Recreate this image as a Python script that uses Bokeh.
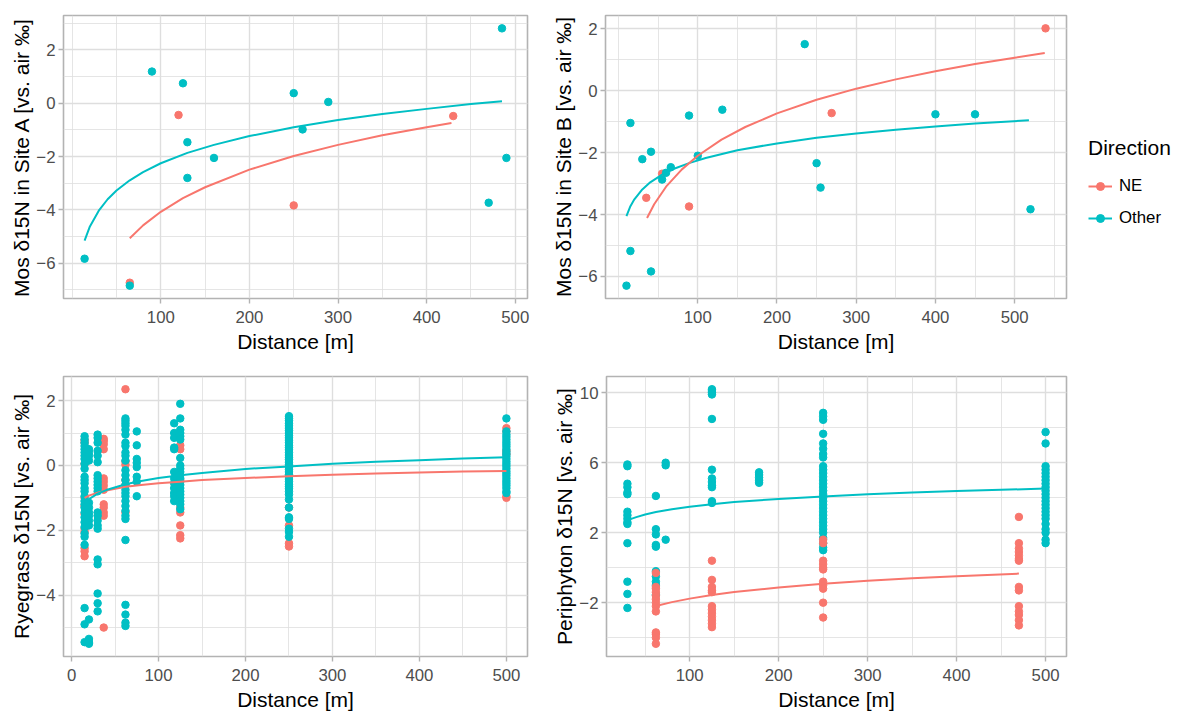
from bokeh.plotting import figure
from bokeh.layouts import row, column
from bokeh.models import Range1d, FixedTicker, Legend, LegendItem, Spacer
from bokeh.embed import file_html
from bokeh.resources import INLINE

NE_COLOR = "#F8766D"
OTHER_COLOR = "#00BFC4"
FONT = "Liberation Sans"

# ---------------- data ----------------
directions = ["NE", "Other"]
x_title = "Distance [m]"

# Panel A: Mos, Site A
a_ne_x = [65, 120, 250, 430]
a_ne_y = [-6.73, -0.44, -3.83, -0.48]
a_other_x = [14, 65, 90, 125, 130, 130, 160, 250, 260, 289, 470, 485, 490]
a_other_y = [-5.83, -6.84, 1.19, 0.75, -1.46, -2.80, -2.05, 0.38, -0.98, 0.05, -3.73, 2.81, -2.05]
a_ne_fit_x = [65, 80, 100, 125, 150, 200, 250, 300, 350, 400, 428]
a_ne_fit_y = [-5.06, -4.58, -4.07, -3.56, -3.15, -2.49, -1.98, -1.56, -1.20, -0.90, -0.74]
a_other_fit_x = [14, 20, 30, 40, 50, 65, 80, 100, 130, 160, 200, 250, 300, 350, 400, 450, 485]
a_other_fit_y = [-5.15, -4.62, -4.03, -3.60, -3.27, -2.89, -2.58, -2.25, -1.86, -1.56, -1.23,
                 -0.90, -0.63, -0.40, -0.21, -0.03, 0.08]

# Panel B: Mos, Site B
b_ne_x = [35, 55, 89, 269, 539]
b_ne_y = [-3.46, -2.68, -3.74, -0.72, 2.02]
b_other_x = [10, 15, 15, 30, 41, 41, 55, 60, 66, 89, 100, 131, 235, 250, 255, 400, 450, 520]
b_other_y = [-6.30, -1.04, -5.18, -2.21, -1.97, -5.84, -2.87, -2.65, -2.47, -0.80, -2.10, -0.61,
             1.51, -2.34, -3.13, -0.76, -0.76, -3.83]
b_ne_fit_x = [36, 45, 60, 80, 100, 130, 160, 200, 250, 300, 350, 400, 450, 500, 538]
b_ne_fit_y = [-4.11, -3.67, -3.10, -2.54, -2.10, -1.58, -1.17, -0.73, -0.29, 0.07, 0.37, 0.63,
              0.87, 1.07, 1.22]
b_other_fit_x = [10, 15, 20, 30, 40, 55, 70, 90, 110, 150, 200, 250, 300, 350, 400, 450, 518]
b_other_fit_y = [-4.05, -3.73, -3.51, -3.19, -2.96, -2.71, -2.52, -2.33, -2.17, -1.92, -1.70,
                 -1.52, -1.38, -1.26, -1.15, -1.06, -0.95]

# Panel C: Ryegrass (values grouped by sampling distance)
c_ne_dist = [15, 37, 62, 125, 250, 500]
c_ne_vals = [
    [0.78, 0.7, 0.05, -1.0, -1.25, -1.5, -1.95, -2.05, -2.55, -2.65, -2.8],
    [0.82, 0.75, 0.65, 0.5, -0.4, -0.5, -0.62, -0.75, -1.2, -1.3, -1.45, -1.55, -5.0],
    [2.35, 0.12, 0.02, -0.45, -0.6, -1.45],
    [0.62, 0.5, -0.45, -1.3, -1.45, -1.85, -2.15, -2.25],
    [-0.3, -1.3, -1.85, -2.4, -2.5],
    [1.15, 1.05, 0.45, 0.35, -0.95, -1.0],
]
c_other_dist = [15, 20, 30, 62, 75, 118, 125, 250, 500]
c_other_vals = [
    [0.9, 0.8, 0.7, 0.6, 0.5, 0.4, 0.3, 0.2, 0.05, -0.1, -0.35, -0.45, -0.55, -0.7, -0.8, -0.95,
     -1.1, -1.2, -1.3, -1.45, -1.6, -1.75, -1.9, -2.1, -2.2, -2.45, -4.4, -4.9, -5.45],
    [0.5, 0.4, 0.3, 0.15, -1.15, -1.3, -1.45, -1.55, -1.7, -1.85, -4.75, -5.35, -5.45, -5.5],
    [0.95, 0.85, 0.7, 0.45, 0.3, 0.1, -0.3, -0.4, -0.5, -0.6, -0.7, -0.8, -1.45, -1.55, -1.7,
     -1.85, -1.95, -2.9, -3.05, -3.95, -4.25, -4.5],
    [1.45, 1.38, 1.3, 1.22, 1.1, 0.95, 0.7, 0.6, 0.4, 0.3, 0.15, -0.15, -0.3, -0.45, -0.6, -0.75,
     -0.85, -0.95, -1.1, -1.25, -1.4, -1.55, -1.65, -2.3, -4.3, -4.6, -4.85, -4.95],
    [1.05, 0.62, 0.2, 0.08, -0.05, -0.35, -0.5, -0.95],
    [1.3, 1.0, 0.85, 0.55, 0.5, -0.2, -0.4, -0.55, -0.7, -0.85, -0.95, -1.1],
    [1.9, 1.45, 1.1, 1.0, 0.9, 0.8, 0.23, 0.0, -0.1, -0.2, -0.3, -0.4, -0.5, -0.6, -0.7, -0.8,
     -0.9, -1.0, -1.1, -1.2, -1.35],
    [1.52, 1.45, 1.38, 1.3, 1.22, 1.15, 1.08, 1.0, 0.92, 0.85, 0.78, 0.7, 0.62, 0.55, 0.48, 0.4,
     0.32, 0.25, 0.18, 0.1, 0.02, -0.05, -0.12, -0.2, -0.28, -0.35, -0.42, -0.5, -0.58, -0.65,
     -0.72, -0.8, -0.9, -1.05, -1.3, -1.6, -1.65, -1.95, -2.05, -2.2],
    [1.45, 1.05, 0.95, 0.88, 0.8, 0.72, 0.65, 0.58, 0.5, 0.42, 0.35, 0.28, 0.2, 0.12, 0.05,
     -0.02, -0.1, -0.18, -0.25, -0.32, -0.4, -0.48, -0.55, -0.62, -0.7, -0.8, -0.85],
]
c_ne_fit_x = [15, 20, 30, 40, 62, 80, 100, 125, 150, 200, 250, 300, 350, 400, 450, 500]
c_ne_fit_y = [-1.0, -0.93, -0.84, -0.77, -0.66, -0.60, -0.55, -0.50, -0.45, -0.39, -0.33, -0.29,
              -0.25, -0.22, -0.19, -0.17]
c_other_fit_x = [15, 20, 30, 40, 62, 80, 100, 125, 150, 200, 250, 300, 350, 400, 450, 500]
c_other_fit_y = [-1.15, -1.04, -0.87, -0.76, -0.58, -0.48, -0.39, -0.30, -0.23, -0.11, -0.03,
                 0.05, 0.11, 0.16, 0.21, 0.25]

# Panel D: Periphyton
d_ne_dist = [62, 125, 250, 470]
d_ne_vals = [
    [-0.3, -1.1, -1.2, -1.4, -1.6, -1.8, -2.0, -2.2, -2.5, -3.7, -3.8, -4.0, -4.35],
    [0.4, -0.7, -1.1, -1.3, -1.4, -2.2, -2.4, -2.6, -2.8, -3.0, -3.2, -3.4],
    [1.6, 1.4, 0.4, 0.2, 0.0, -0.1, -0.8, -1.0, -1.2, -2.0, -2.85],
    [2.9, 1.4, 1.1, 0.9, 0.7, 0.5, 0.4, -1.1, -1.3, -2.2, -2.5, -2.7, -3.0, -3.3],
]
d_other_dist = [30, 62, 73, 125, 178, 250, 500]
d_other_vals = [
    [5.9, 5.8, 4.8, 4.6, 4.3, 4.2, 3.2, 3.0, 2.8, 2.6, 2.5, 1.4, -0.8, -1.5, -2.3],
    [4.1, 2.2, 1.9, 1.3, 1.2, -0.2, -0.5, -0.8, -1.0, -1.55],
    [6.0, 5.85, 1.6],
    [10.2, 10.1, 10.0, 9.9, 8.5, 5.6, 5.1, 4.9, 4.7, 4.6, 3.8, 3.7],
    [5.45, 5.3, 5.15, 5.0, 4.85],
    [8.85, 8.65, 8.45, 7.65, 7.1, 6.8, 6.5, 6.3, 5.8, 5.6, 5.4, 5.2, 5.0, 4.8, 4.6, 4.4, 4.2,
     4.0, 3.8, 3.6, 3.4, 3.2, 3.0, 2.8, 2.6, 2.4, 2.2, 2.0, 1.7, 1.4, 1.15, 1.0],
    [7.75, 7.1, 5.8, 5.6, 5.4, 5.2, 5.0, 4.8, 4.6, 4.4, 4.2, 4.0, 3.8, 3.6, 3.4, 3.2, 3.0, 2.8,
     2.5, 2.2, 2.0, 1.6, 1.4],
]
d_ne_fit_x = [62, 80, 100, 125, 150, 200, 250, 300, 350, 400, 470]
d_ne_fit_y = [-2.19, -1.97, -1.77, -1.56, -1.39, -1.13, -0.92, -0.75, -0.61, -0.49, -0.34]
d_other_fit_x = [31, 40, 50, 62, 80, 100, 125, 150, 200, 250, 300, 350, 400, 450, 500]
d_other_fit_y = [2.73, 2.89, 3.04, 3.18, 3.34, 3.48, 3.63, 3.75, 3.93, 4.07, 4.19, 4.29, 4.38,
                 4.45, 4.52]

# axis ticks
a_yticks = [-6, -4, -2, 0, 2]
b_yticks = [-6, -4, -2, 0, 2]
c_yticks = [-4, -2, 0, 2]
d_yticks = [-2, 2, 6, 10]
ab_xticks = [100, 200, 300, 400, 500]
c_xticks = [0, 100, 200, 300, 400, 500]
d_xticks = [100, 200, 300, 400, 500]


def flatten(dists, groups):
    xs, ys = [], []
    for d, vals in zip(dists, groups):
        xs += [d] * len(vals)
        ys += list(vals)
    return xs, ys


def expand(*lists):
    vals = [v for l in lists for v in l]
    lo, hi = min(vals), max(vals)
    d = (hi - lo) * 0.05
    return lo - d, hi + d


def minors(ticks):
    step = ticks[1] - ticks[0]
    ext = [ticks[0] - step] + list(ticks) + [ticks[-1] + step]
    return [(ext[i] + ext[i + 1]) / 2 for i in range(len(ext) - 1)] + ext


def panel(width, height, borders, xr, yr, xticks, yticks, ylabel):
    left, right, top, bottom = borders
    p = figure(width=width, height=height, x_range=Range1d(*xr), y_range=Range1d(*yr),
               output_backend="svg", toolbar_location=None,
               min_border_left=left, min_border_right=right,
               min_border_top=top, min_border_bottom=bottom)
    p.outline_line_color = "#B3B3B3"
    p.outline_line_width = 1.6
    p.background_fill_color = "white"
    p.border_fill_color = "white"
    xtk = FixedTicker(ticks=xticks, minor_ticks=minors(xticks))
    ytk = FixedTicker(ticks=yticks, minor_ticks=minors(yticks))
    p.xaxis[0].ticker = xtk
    p.yaxis[0].ticker = ytk
    p.xgrid[0].ticker = xtk
    p.ygrid[0].ticker = ytk
    p.xaxis.axis_label = x_title
    p.yaxis.axis_label = ylabel
    for ax in (p.xaxis[0], p.yaxis[0]):
        ax.axis_line_color = None
        ax.major_tick_line_color = "#B3B3B3"
        ax.major_tick_line_width = 1.4
        ax.major_tick_out = 5
        ax.major_tick_in = 0
        ax.minor_tick_line_color = None
        ax.major_label_text_font = FONT
        ax.major_label_text_font_size = "16.8px"
        ax.major_label_text_color = "#4D4D4D"
        ax.axis_label_text_font = FONT
        ax.axis_label_text_font_size = "21px"
        ax.axis_label_text_font_style = "normal"
        ax.axis_label_text_color = "#000000"
    p.xaxis[0].major_label_standoff = 7
    p.xaxis[0].axis_label_standoff = 4
    p.yaxis[0].major_label_standoff = 3
    p.yaxis[0].axis_label_standoff = 0
    for g in (p.xgrid[0], p.ygrid[0]):
        g.grid_line_color = "#DEDEDE"
        g.grid_line_width = 1.4
        g.minor_grid_line_color = "#DEDEDE"
        g.minor_grid_line_width = 0.8
    return p


PT = 7.5
LW = 2

# Panel A
pA = panel(545, 358, (63, 18, 15, 60), expand(a_ne_x, a_other_x, a_other_fit_x),
           expand(a_ne_y, a_other_y), ab_xticks, a_yticks, "Mos δ15N in Site A [vs. air ‰]")
pA.scatter(a_ne_x, a_ne_y, size=PT, color=NE_COLOR)
pA.scatter(a_other_x, a_other_y, size=PT, color=OTHER_COLOR)
pA.line(a_ne_fit_x, a_ne_fit_y, line_width=LW, color=NE_COLOR)
pA.line(a_other_fit_x, a_other_fit_y, line_width=LW, color=OTHER_COLOR)

# Panel B
pB = panel(535, 358, (60, 14, 15, 60), expand(b_ne_x, b_other_x),
           expand(b_ne_y, b_other_y), ab_xticks, b_yticks, "Mos δ15N in Site B [vs. air ‰]")
pB.scatter(b_ne_x, b_ne_y, size=PT, color=NE_COLOR)
pB.scatter(b_other_x, b_other_y, size=PT, color=OTHER_COLOR)
pB.line(b_other_fit_x, b_other_fit_y, line_width=LW, color=OTHER_COLOR)
pB.line(b_ne_fit_x, b_ne_fit_y, line_width=LW, color=NE_COLOR)

# Panel C
c_ne_x, c_ne_y = flatten(c_ne_dist, c_ne_vals)
c_other_x, c_other_y = flatten(c_other_dist, c_other_vals)
pC = panel(545, 355, (63, 18, 18, 55), expand(c_ne_x, c_other_x),
           expand(c_ne_y, c_other_y), c_xticks, c_yticks, "Ryegrass δ15N [vs. air ‰]")
pC.scatter(c_ne_x, c_ne_y, size=PT, color=NE_COLOR)
pC.scatter(c_other_x, c_other_y, size=PT, color=OTHER_COLOR)
pC.line(c_ne_fit_x, c_ne_fit_y, line_width=LW, color=NE_COLOR)
pC.line(c_other_fit_x, c_other_fit_y, line_width=LW, color=OTHER_COLOR)

# Panel D
d_ne_x, d_ne_y = flatten(d_ne_dist, d_ne_vals)
d_other_x, d_other_y = flatten(d_other_dist, d_other_vals)
pD = panel(535, 355, (61, 14, 18, 55), expand(d_ne_x, d_other_x),
           expand(d_ne_y, d_other_y), d_xticks, d_yticks, "Periphyton δ15N [vs. air ‰]")
pD.scatter(d_other_x, d_other_y, size=PT, color=OTHER_COLOR)
pD.scatter(d_ne_x, d_ne_y, size=PT, color=NE_COLOR)
pD.line(d_ne_fit_x, d_ne_fit_y, line_width=LW, color=NE_COLOR)
pD.line(d_other_fit_x, d_other_fit_y, line_width=LW, color=OTHER_COLOR)

# Legend panel
pL = figure(width=97, height=358, x_range=Range1d(0, 1), y_range=Range1d(0, 1),
            output_backend="svg", toolbar_location=None,
            x_axis_location=None, y_axis_location=None, min_border=0)
pL.outline_line_color = None
pL.grid.visible = False
items = []
for name, col in zip(directions, [NE_COLOR, OTHER_COLOR]):
    rl = pL.line([5, 6], [5, 6], line_width=LW, color=col)
    rs = pL.scatter([5.5], [5.5], size=PT, color=col)
    items.append(LegendItem(label=name, renderers=[rl, rs]))
leg = Legend(items=items, title="Direction", location=(8, 68),
             title_text_font=FONT, title_text_font_size="21px", title_text_font_style="normal",
             title_text_color="#000000", title_standoff=14,
             label_text_font=FONT, label_text_font_size="16.8px", label_text_color="#000000",
             glyph_width=24, glyph_height=20, label_height=24, label_standoff=7,
             spacing=8, padding=0, margin=0, border_line_color=None,
             background_fill_alpha=0)
pL.add_layout(leg)

layout = column(row(pA, pB, pL), row(pC, pD, Spacer(width=97, height=355)))
open("out.html", "w").write(file_html(layout, INLINE))
